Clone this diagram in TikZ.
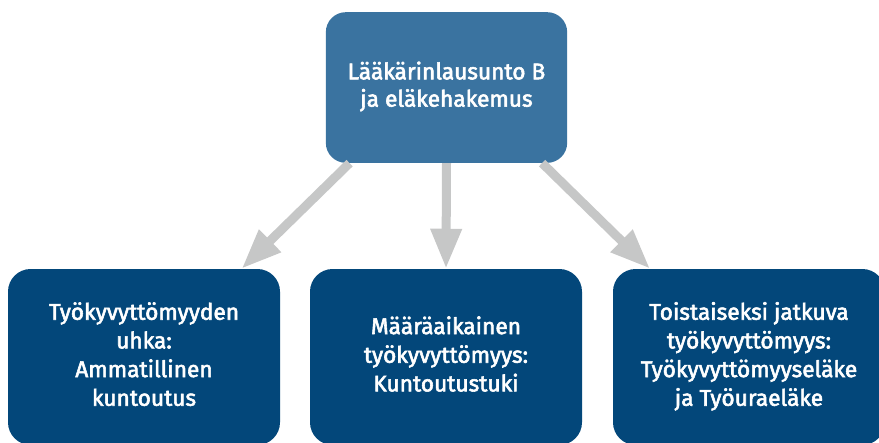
\documentclass[tikz,border=0pt]{standalone}
\usepackage{fontspec}
\setmainfont{Fira Sans}
\newfontfamily\boxfont{Fira Sans}[FakeBold=2.5]
\usepackage{tikz}
\usetikzlibrary{arrows.meta}

\definecolor{topblue}{HTML}{3A73A0}
\definecolor{boxblue}{HTML}{03477A}
\definecolor{arrowgrey}{HTML}{C6C7C7}

\newcommand{\boxlines}[1]{\begin{tabular}{@{}c@{}}#1\end{tabular}}

\tikzset{
  topbox/.style={fill=topblue, rounded corners=15pt, text=white,
    minimum width=181pt, minimum height=113pt, font=\boxfont\fontsize{17}{20.5}\selectfont},
  lowbox/.style={fill=boxblue, rounded corners=17pt, text=white,
    minimum width=204pt, minimum height=132pt, font=\boxfont\fontsize{17}{21.5}\selectfont},
  greyarrow/.style={draw=arrowgrey, line width=6.75pt, -{Triangle[length=30pt,width=22pt]}}
}

\begin{document}
\begin{tikzpicture}[x=0.75pt, y=-0.75pt]
            \useasboundingbox (0,0) rectangle (879,443);
            \node[topbox] (lausunto) at (446.5,87.5) {\boxlines{Lääkärinlausunto B\\ja eläkehakemus}};
            \node[lowbox] (uhka) at (144,357) {\boxlines{Työkyvyttömyyden\\uhka:\\Ammatillinen\\kuntoutus}};
            \node[lowbox] (maara) at (446,357) {\boxlines{Määräaikainen\\työkyvyttömyys:\\Kuntoutustuki}};
            \node[lowbox] (toist) at (749,357) {\boxlines{Toistaiseksi jatkuva\\työkyvyttömyys:\\Työkyvyttömyyseläke\\ja Työuraeläke}};
            \draw[greyarrow] ([xshift=18pt]lausunto.south west) -- ([xshift=-29pt]uhka.north east);
            \draw[greyarrow] (lausunto.south) -- (maara.north);
            \draw[greyarrow] ([xshift=-19pt]lausunto.south east) -- ([xshift=28pt]toist.north west);
        \end{tikzpicture}
\end{document}
